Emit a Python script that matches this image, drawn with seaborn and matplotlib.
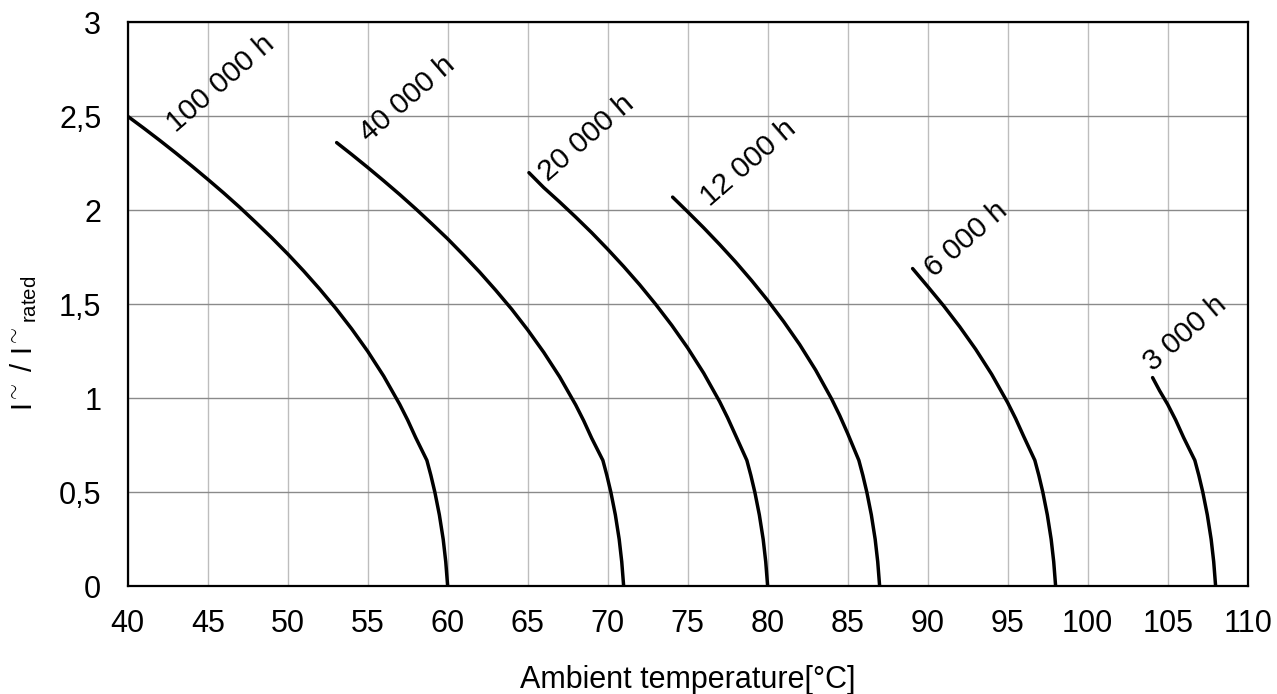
import matplotlib
matplotlib.use('Agg')
import matplotlib.pyplot as plt
import seaborn as sns
import pandas as pd

# (temperature, current ratio) per lifetime curve
t_100k = [40, 41, 42, 43, 44, 45, 46, 47, 48, 49, 50, 51, 52, 53, 54, 55, 56, 57, 57.5, 58,
          58.7, 58.95, 59.2, 59.48, 59.72, 59.88, 60]
i_100k = [2.500, 2.437, 2.372, 2.305, 2.236, 2.165, 2.092, 2.016, 1.936, 1.854, 1.768, 1.677, 1.581,
          1.479, 1.369, 1.250, 1.118, 0.968, 0.884, 0.791, 0.67, 0.59, 0.50, 0.38, 0.25, 0.13, 0]

t_40k = [53.06, 54, 55, 56, 57, 58, 59, 60, 61, 62, 63, 64, 65, 66, 67, 68, 68.5, 69,
         69.7, 69.95, 70.2, 70.48, 70.72, 70.88, 71]
i_40k = [2.360, 2.297, 2.228, 2.157, 2.084, 2.008, 1.929, 1.848, 1.761, 1.671, 1.575, 1.474, 1.364,
         1.245, 1.114, 0.965, 0.881, 0.788, 0.67, 0.59, 0.50, 0.38, 0.25, 0.13, 0]

t_20k = [65.08, 66, 67, 68, 69, 70, 71, 72, 73, 74, 75, 76, 77, 77.5, 78,
         78.7, 78.95, 79.2, 79.48, 79.72, 79.88, 80]
i_20k = [2.200, 2.121, 2.044, 1.964, 1.881, 1.793, 1.701, 1.604, 1.500, 1.389, 1.268, 1.134, 0.982,
         0.896, 0.802, 0.67, 0.59, 0.50, 0.38, 0.25, 0.13, 0]

t_12k = [74.06, 75, 76, 77, 78, 79, 80, 81, 82, 83, 84, 84.5, 85,
         85.7, 85.95, 86.2, 86.48, 86.72, 86.88, 87]
i_12k = [2.070, 1.992, 1.907, 1.818, 1.725, 1.626, 1.521, 1.408, 1.286, 1.150, 0.996, 0.909, 0.813,
         0.67, 0.59, 0.50, 0.38, 0.25, 0.13, 0]

t_6k = [89.06, 90, 91, 92, 93, 94, 95, 95.5, 96, 96.7, 96.95, 97.2, 97.48, 97.72, 97.88, 98]
i_6k = [1.690, 1.595, 1.492, 1.381, 1.261, 1.128, 0.977, 0.892, 0.798, 0.67, 0.59, 0.50, 0.38, 0.25,
        0.13, 0]

t_3k = [104.06, 104.5, 105, 105.5, 106, 106.7, 106.95, 107.2, 107.48, 107.72, 107.88, 108]
i_3k = [1.110, 1.040, 0.968, 0.885, 0.791, 0.67, 0.59, 0.50, 0.38, 0.25, 0.13, 0]

curve_names = ['100 000 h', '40 000 h', '20 000 h', '12 000 h', '6 000 h', '3 000 h']
curve_t = [t_100k, t_40k, t_20k, t_12k, t_6k, t_3k]
curve_i = [i_100k, i_40k, i_20k, i_12k, i_6k, i_3k]

# label anchor points (baseline start of rotated text)
label_t = [43.0, 55.1, 66.3, 76.4, 90.4, 104.1]
label_i = [2.41, 2.36, 2.15, 2.02, 1.64, 1.14]

x_ticks = list(range(40, 111, 5))
y_ticks = [0, 0.5, 1, 1.5, 2, 2.5, 3]
y_ticklabels = ['0', '0,5', '1', '1,5', '2', '2,5', '3']

frames = []
for name, t, i in zip(curve_names, curve_t, curve_i):
    frames.append(pd.DataFrame({'temp': t, 'ratio': i, 'life': name}))
df = pd.concat(frames, ignore_index=True)

sns.set_style('white')
plt.rcParams['font.family'] = ['Liberation Sans', 'DejaVu Sans']
plt.rcParams['mathtext.fontset'] = 'custom'
plt.rcParams['mathtext.rm'] = 'Liberation Sans'
plt.rcParams['mathtext.it'] = 'Liberation Sans'
plt.rcParams['text.color'] = 'black'
plt.rcParams['axes.labelcolor'] = 'black'
plt.rcParams['xtick.color'] = 'black'
plt.rcParams['ytick.color'] = 'black'

fig = plt.figure(figsize=(12.77, 6.94), dpi=100)
ax = fig.add_axes([0.1, 0.1552, 0.877, 0.8127])

for name in curve_names:
    sns.lineplot(data=df[df.life == name], x='temp', y='ratio', sort=False,
                 estimator=None, color='black', linewidth=2.5, ax=ax)

for name, lt, li in zip(curve_names, label_t, label_i):
    ax.text(lt, li, name, fontsize=21.5, rotation=41, rotation_mode='anchor',
            ha='left', va='baseline')

ax.set_xlim(40, 110)
ax.set_ylim(0, 3)
ax.set_xticks(x_ticks)
ax.set_yticks(y_ticks)
ax.set_yticklabels(y_ticklabels)
ax.tick_params(length=0, labelsize=22)
ax.tick_params(axis='x', pad=16)
ax.tick_params(axis='y', pad=19)

ax.grid(axis='x', color='#bdbdbd', linewidth=1.0)
ax.grid(axis='y', color='#8a8a8a', linewidth=1.0)
ax.set_axisbelow(True)
for s in ax.spines.values():
    s.set_color('black')
    s.set_linewidth(1.6)

ax.set_xlabel('Ambient temperature[°C]', fontsize=22, labelpad=19)
ax.set_ylabel(r'I$^{\sim}$ / I$^{\sim}$$_{\mathrm{rated}}$', fontsize=21, labelpad=14, y=0.43)

fig.savefig('out.png', dpi=100)
